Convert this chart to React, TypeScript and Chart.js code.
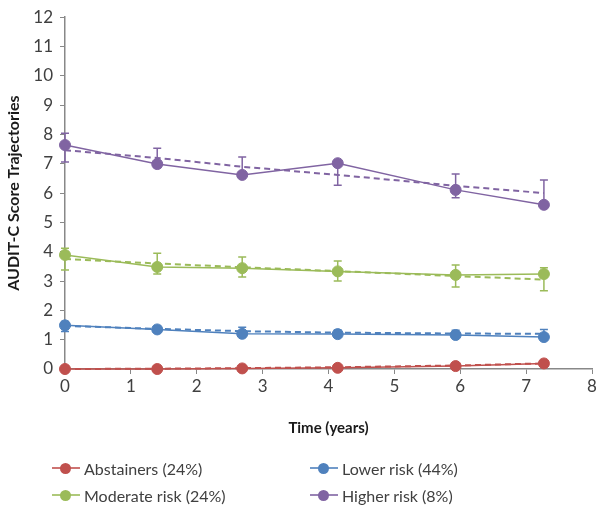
import React, { useEffect, useRef } from "react";
import { Chart, registerables } from "chart.js";

Chart.register(...registerables);

const timeYears = [0, 1.4, 2.69, 4.14, 5.93, 7.27];

const abstainersObs = [0, 0, 0.02, 0.04, 0.1, 0.19];
const abstainersFit = [0, 0.01, 0.03, 0.06, 0.12, 0.19];
const abstainersLow = [0, 0, 0, 0.01, 0.05, 0.1];
const abstainersHigh = [0.02, 0.03, 0.06, 0.11, 0.19, 0.28];

const lowerObs = [1.49, 1.35, 1.2, 1.19, 1.16, 1.09];
const lowerFit = [1.47, 1.37, 1.29, 1.24, 1.21, 1.2];
const lowerLow = [1.28, 1.25, 1.18, 1.12, 1.08, 1.05];
const lowerHigh = [1.62, 1.47, 1.42, 1.33, 1.32, 1.35];

const moderateObs = [3.89, 3.48, 3.44, 3.33, 3.21, 3.24];
const moderateFit = [3.75, 3.6, 3.47, 3.34, 3.17, 3.05];
const moderateLow = [3.38, 3.24, 3.14, 3.0, 2.8, 2.67];
const moderateHigh = [4.12, 3.95, 3.82, 3.68, 3.55, 3.45];

const higherObs = [7.64, 6.99, 6.62, 7.02, 6.11, 5.6];
const higherFit = [7.46, 7.2, 6.9, 6.62, 6.25, 6.0];
const higherLow = [7.06, 6.87, 6.58, 6.27, 5.84, 5.55];
const higherHigh = [8.04, 7.53, 7.23, 6.95, 6.65, 6.45];

const seriesNames = ["Abstainers (24%)", "Lower risk (44%)", "Moderate risk (24%)", "Higher risk (8%)"];
const seriesColors = ["#C0504D", "#4F81BD", "#9BBB59", "#8064A2"];

const yTitle = "AUDIT-C Score Trajectories";
const xTitle = "Time (years)";

const FONT = "Lato, 'Open Sans', sans-serif";

const pts = (ys: number[]) => timeYears.map((x, i) => ({ x, y: ys[i] }));

const errorBarPlugin = {
  id: "errorBars",
  beforeDatasetsDraw(chart: any) {
    const ctx = chart.ctx;
    const xs = chart.scales.x;
    const ys = chart.scales.y;
    chart.data.datasets.forEach((ds: any) => {
      if (!ds.errLow) return;
      ctx.save();
      ctx.strokeStyle = ds.borderColor;
      ctx.lineWidth = 1.5;
      timeYears.forEach((t, i) => {
        const px = xs.getPixelForValue(t);
        const lo = ys.getPixelForValue(ds.errLow[i]);
        const hi = ys.getPixelForValue(ds.errHigh[i]);
        ctx.beginPath();
        ctx.moveTo(px, lo);
        ctx.lineTo(px, hi);
        ctx.moveTo(px - 4, lo);
        ctx.lineTo(px + 4, lo);
        ctx.moveTo(px - 4, hi);
        ctx.lineTo(px + 4, hi);
        ctx.stroke();
      });
      ctx.restore();
    });
  },
};

export default function App() {
  const ref = useRef<HTMLCanvasElement>(null);

  useEffect(() => {
    const obs = [abstainersObs, lowerObs, moderateObs, higherObs];
    const fit = [abstainersFit, lowerFit, moderateFit, higherFit];
    const lows = [abstainersLow, lowerLow, moderateLow, higherLow];
    const highs = [abstainersHigh, lowerHigh, moderateHigh, higherHigh];
    const datasets: any[] = [];
    obs.forEach((o, i) => {
      datasets.push({
        label: seriesNames[i],
        data: pts(o),
        borderColor: seriesColors[i],
        backgroundColor: seriesColors[i],
        borderWidth: 1.5,
        pointRadius: 5.5,
        pointBorderWidth: 1,
        pointBorderColor: seriesColors[i],
        pointBackgroundColor: seriesColors[i],
        tension: 0,
        fill: false,
        clip: false,
      });
    });
    fit.forEach((f, i) => {
      datasets.push({
        label: seriesNames[i] + " fit",
        data: pts(f),
        borderColor: seriesColors[i],
        borderWidth: 2,
        borderDash: [6, 4],
        pointRadius: 0,
        tension: 0,
        fill: false,
        clip: false,
        errLow: lows[i],
        errHigh: highs[i],
      });
    });

    const chart = new Chart(ref.current!, {
      type: "line",
      data: { datasets },
      options: {
        animation: false,
        responsive: false,
        layout: { padding: { left: 0, top: 14, right: 8, bottom: 69 } },
        plugins: { legend: { display: false }, tooltip: { enabled: false } },
        scales: {
          x: {
            type: "linear",
            min: 0,
            max: 8,
            ticks: { stepSize: 1, color: "#404040", font: { family: FONT, size: 17 }, padding: 2 },
            grid: { drawOnChartArea: false, tickLength: 5, color: "#888888" },
            border: { color: "#888888", width: 1.5 },
            title: { display: true, text: xTitle, color: "#1a1a1a", font: { family: FONT, size: 15, weight: "bold" } },
            afterFit: (s: any) => { s.height = 72; },
          },
          y: {
            type: "linear",
            min: 0,
            max: 12,
            ticks: { stepSize: 1, color: "#404040", font: { family: FONT, size: 17 }, padding: 7 },
            grid: { drawOnChartArea: false, tickLength: 5, color: "#888888" },
            border: { color: "#888888", width: 1.5 },
            title: { display: true, text: yTitle, color: "#1a1a1a", font: { family: FONT, size: 16, weight: "bold" } },
            afterFit: (s: any) => { s.width = 65; },
          },
        },
      } as any,
      plugins: [errorBarPlugin],
    });
    return () => chart.destroy();
  }, []);

  const legendPos = [
    { x: 52, y: 468 },
    { x: 310, y: 468 },
    { x: 52, y: 495 },
    { x: 310, y: 495 },
  ];

  return (
    <div style={{ position: "absolute", left: 0, top: 0, width: 600, height: 510, background: "#fff" }}>
      <canvas ref={ref} width={600} height={510} style={{ position: "absolute", left: 0, top: 0 }} />
      {seriesNames.map((name, i) => (
        <div key={name} style={{ position: "absolute", left: legendPos[i].x, top: legendPos[i].y - 11, height: 22, display: "flex", alignItems: "center", fontFamily: FONT, fontSize: 16, color: "#404040", whiteSpace: "nowrap" }}>
          <div style={{ position: "relative", width: 28, height: 22, marginRight: 4 }}>
            <div style={{ position: "absolute", left: 0, top: 10, width: 28, height: 1.5, background: seriesColors[i], opacity: 0.8 }} />
            <div style={{ position: "absolute", left: 8, top: 5.5, width: 11, height: 11, borderRadius: "50%", background: seriesColors[i] }} />
          </div>
          <span>{name}</span>
        </div>
      ))}
    </div>
  );
}
